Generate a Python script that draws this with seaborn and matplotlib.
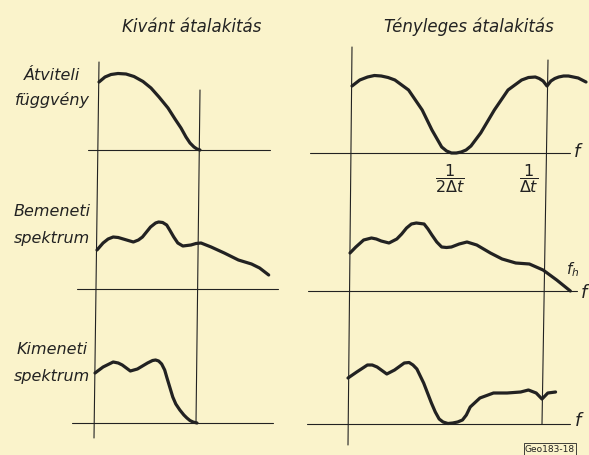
import matplotlib
matplotlib.use("Agg")
import matplotlib.pyplot as plt
import seaborn as sns

# ---------------- data (frequency in units of 1/Δt, amplitude relative) ----------------
# Desired transformation (left column)
desired_tf_f = [0.0, 0.03, 0.06, 0.095, 0.135, 0.175, 0.22, 0.26, 0.30, 0.345, 0.38, 0.41, 0.435, 0.455, 0.475, 0.49, 0.505]
desired_tf_a = [0.68, 0.73, 0.755, 0.765, 0.76, 0.735, 0.685, 0.62, 0.53, 0.42, 0.31, 0.22, 0.13, 0.07, 0.03, 0.01, 0.0]

input_l_f = [0.0, 0.03, 0.055, 0.08, 0.105, 0.13, 0.18, 0.205, 0.225, 0.245, 0.265, 0.29, 0.305, 0.325, 0.345, 0.36, 0.38, 0.40, 0.425, 0.445, 0.465, 0.49, 0.515, 0.565, 0.63, 0.70, 0.765, 0.805, 0.85]
input_l_a = [0.39, 0.46, 0.50, 0.52, 0.515, 0.50, 0.47, 0.49, 0.52, 0.57, 0.62, 0.66, 0.67, 0.665, 0.64, 0.59, 0.52, 0.46, 0.43, 0.435, 0.44, 0.455, 0.46, 0.42, 0.36, 0.29, 0.25, 0.21, 0.14]

output_l_f = [0.0, 0.04, 0.09, 0.115, 0.135, 0.155, 0.175, 0.21, 0.26, 0.285, 0.30, 0.315, 0.33, 0.345, 0.355, 0.37, 0.385, 0.40, 0.42, 0.44, 0.455, 0.47, 0.485, 0.505]
output_l_a = [0.50, 0.56, 0.61, 0.60, 0.58, 0.55, 0.52, 0.54, 0.60, 0.625, 0.63, 0.62, 0.59, 0.53, 0.46, 0.36, 0.26, 0.19, 0.13, 0.08, 0.05, 0.025, 0.01, 0.0]

# Actual transformation (right column)
actual_tf_f = [0.0, 0.04, 0.08, 0.115, 0.15, 0.185, 0.22, 0.29, 0.36, 0.41, 0.46, 0.485, 0.51, 0.535, 0.56, 0.585, 0.61, 0.66, 0.73, 0.80, 0.87, 0.905, 0.94, 0.96, 0.98, 1.0, 1.02, 1.04, 1.06, 1.085, 1.11, 1.16, 1.20]
actual_tf_a = [0.67, 0.73, 0.76, 0.775, 0.77, 0.755, 0.73, 0.63, 0.43, 0.23, 0.06, 0.02, 0.0, 0.0, 0.01, 0.03, 0.07, 0.20, 0.43, 0.63, 0.73, 0.755, 0.76, 0.745, 0.72, 0.67, 0.72, 0.745, 0.76, 0.77, 0.77, 0.75, 0.71]

input_r_f = [0.0, 0.03, 0.07, 0.11, 0.135, 0.16, 0.20, 0.24, 0.265, 0.29, 0.315, 0.34, 0.38, 0.40, 0.42, 0.445, 0.47, 0.495, 0.52, 0.56, 0.60, 0.65, 0.72, 0.78, 0.85, 0.92, 0.99, 1.06, 1.13]
input_r_a = [0.38, 0.44, 0.51, 0.53, 0.52, 0.50, 0.48, 0.52, 0.57, 0.63, 0.67, 0.68, 0.67, 0.62, 0.56, 0.49, 0.44, 0.435, 0.44, 0.47, 0.49, 0.46, 0.38, 0.32, 0.28, 0.27, 0.21, 0.11, 0.0]

output_r_f = [0.0, 0.045, 0.10, 0.125, 0.15, 0.175, 0.20, 0.24, 0.29, 0.315, 0.335, 0.355, 0.37, 0.39, 0.41, 0.43, 0.45, 0.47, 0.49, 0.515, 0.54, 0.565, 0.59, 0.61, 0.63, 0.68, 0.75, 0.82, 0.89, 0.93, 0.97, 1.0, 1.03, 1.07]
output_r_a = [0.46, 0.52, 0.59, 0.59, 0.57, 0.535, 0.50, 0.54, 0.61, 0.615, 0.59, 0.55, 0.49, 0.41, 0.31, 0.21, 0.12, 0.05, 0.02, 0.005, 0.01, 0.02, 0.04, 0.09, 0.17, 0.26, 0.31, 0.31, 0.32, 0.34, 0.31, 0.25, 0.31, 0.32]

col_titles = ["Kivánt átalakitás", "Tényleges átalakitás"]
row_labels = [["Átviteli", "függvény"], ["Bemeneti", "spektrum"], ["Kimeneti", "spektrum"]]
tick_labels = [r"$\dfrac{\mathit{1}}{\mathit{2\Delta t}}$", r"$\dfrac{\mathit{1}}{\mathit{\Delta t}}$"]
tick_pos = [0.5, 0.905]
code_label = "Geo183-18"

# ---------------- style ----------------
W, H = 589, 455
BG = "#FAF3CB"
INK = "#222222"
sns.set_theme(style="white")
plt.rcParams["font.family"] = ["DejaVu Sans"]
plt.rcParams["mathtext.fontset"] = "dejavusans"

fig = plt.figure(figsize=(W / 100, H / 100), dpi=100)
fig.patch.set_facecolor(BG)

# overlay axes in pixel coordinates for the frame lines and the texts
ov = fig.add_axes([0, 0, 1, 1])
ov.set_xlim(0, W)
ov.set_ylim(H, 0)
ov.set_axis_off()

lw_ax = 0.8
# vertical axes (slightly slanted as drawn)
ov.plot([99, 94], [62, 438], color=INK, lw=lw_ax)
ov.plot([200, 196], [90, 423], color=INK, lw=lw_ax)
ov.plot([352, 348], [47, 445], color=INK, lw=lw_ax)
ov.plot([548, 542], [60, 424], color=INK, lw=lw_ax)
# horizontal axes
for (x0, x1, y) in [(88, 270, 150), (77, 278, 289), (72, 273, 423),
                    (310, 570, 153), (308, 577, 291), (307, 570, 424)]:
    ov.plot([x0, x1], [y, y], color=INK, lw=lw_ax)


def panel(ox, oy, sx, sy=100.0, box=(0, 0, W, H)):
    l, t, r, b = box
    ax = fig.add_axes([l / W, 1 - b / H, (r - l) / W, (b - t) / H])
    ax.set_xlim((l - ox) / sx, (r - ox) / sx)
    ax.set_ylim((oy - b) / sy, (oy - t) / sy)
    ax.set_axis_off()
    return ax


curves = [
    (desired_tf_f, desired_tf_a, 99, 150, 200),
    (input_l_f, input_l_a, 97, 289, 202),
    (output_l_f, output_l_a, 95, 423, 202),
    (actual_tf_f, actual_tf_a, 352, 153, 195),
    (input_r_f, input_r_a, 350, 291, 195),
    (output_r_f, output_r_a, 348, 424, 194),
]
axes = []
for f, a, ox, oy, sx in curves:
    ax = panel(ox, oy, sx)
    sns.lineplot(x=f, y=a, ax=ax, color=INK, linewidth=2.3, sort=False,
                 estimator=None, solid_capstyle="round", solid_joinstyle="round")
    axes.append(ax)

# tick labels on actual transfer function
ax_tf = axes[3]
for p, lab in zip(tick_pos, tick_labels):
    ax_tf.text(p, -0.255, lab, ha="center", va="center", fontsize=11.5, color=INK)

# texts
txt = dict(color=INK, style="italic")
ov.text(192, 27, col_titles[0], ha="center", va="center", fontsize=12, **txt)
ov.text(469, 27, col_titles[1], ha="center", va="center", fontsize=12, **txt)
for (l1, l2), y1, y2 in zip(row_labels, [76, 212, 350], [100, 238, 377]):
    ov.text(52, y1, l1, ha="center", va="center", fontsize=11.5, **txt)
    ov.text(52, y2, l2, ha="center", va="center", fontsize=11.5, **txt)

ov.text(577, 152, "f", ha="center", va="center", fontsize=13, **txt)
ov.text(584, 293, "f", ha="center", va="center", fontsize=13, **txt)
ov.text(578, 421, "f", ha="center", va="center", fontsize=13, **txt)
ov.text(573, 270, r"$f_h$", ha="center", va="center", fontsize=11, color=INK)
ov.text(550, 449, code_label, ha="center", va="center", fontsize=6.5, color=INK,
        bbox=dict(boxstyle="square,pad=0.15", fc="none", ec=INK, lw=0.6))

fig.savefig("out.png", dpi=100, facecolor=BG)
